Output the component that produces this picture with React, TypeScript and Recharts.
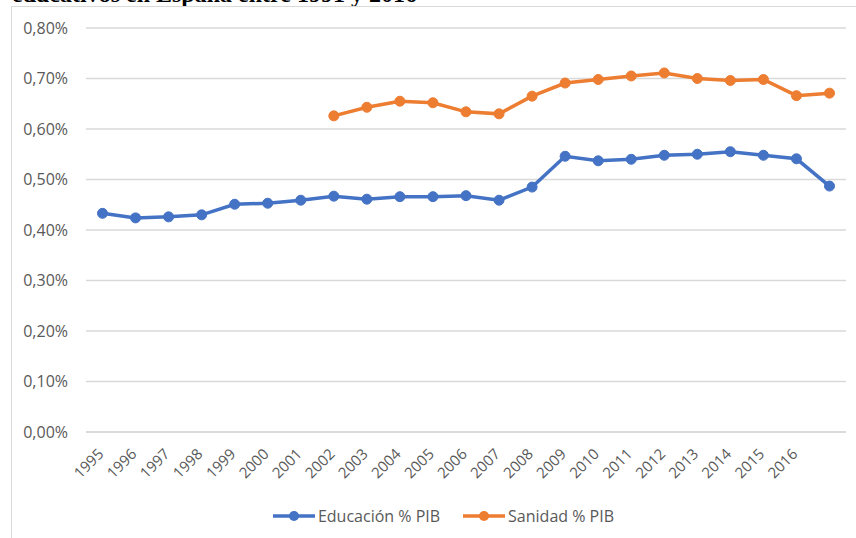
import { LineChart, Line, XAxis, YAxis, CartesianGrid } from "recharts";

const years = [
  "1995", "1996", "1997", "1998", "1999", "2000", "2001", "2002", "2003",
  "2004", "2005", "2006", "2007", "2008", "2009", "2010", "2011", "2012",
  "2013", "2014", "2015", "2016", "",
];

const educacion = [
  0.433, 0.424, 0.426, 0.43, 0.451, 0.453, 0.459, 0.467, 0.461, 0.466, 0.466,
  0.468, 0.459, 0.485, 0.546, 0.537, 0.54, 0.548, 0.55, 0.555, 0.548, 0.541,
  0.487,
];

const sanidad = [
  null, null, null, null, null, null, null, 0.626, 0.643, 0.655, 0.652, 0.634,
  0.63, 0.665, 0.691, 0.698, 0.705, 0.711, 0.7, 0.696, 0.698, 0.666, 0.671,
];

const yTicks = [0, 0.1, 0.2, 0.3, 0.4, 0.5, 0.6, 0.7, 0.8];

const series = [
  { key: "educacion", name: "Educación % PIB", color: "#4472C4" },
  { key: "sanidad", name: "Sanidad % PIB", color: "#ED7D31" },
];

const data = years.map((year, i) => ({
  year,
  educacion: educacion[i],
  sanidad: sanidad[i],
}));

const textColor = "#595959";
const font = "'Open Sans', 'Liberation Sans', sans-serif";

const fmtPct = (v: number) => v.toFixed(2).replace(".", ",") + "%";

function XTick(props: any) {
  const { x, y, payload } = props;
  const ax = x + 2;
  const ay = y + 23;
  return (
    <text
      x={ax}
      y={ay}
      transform={`rotate(-45 ${ax} ${ay})`}
      textAnchor="end"
      fill={textColor}
      fontSize={15}
      fontFamily={font}
    >
      {payload.value}
    </text>
  );
}

export default function App() {
  return (
    <div
      style={{
        position: "fixed",
        left: 0,
        top: 0,
        width: 856,
        height: 538,
        background: "#fff",
        overflow: "hidden",
      }}
    >
      <div
        style={{
          position: "absolute",
          left: 12,
          top: -19,
          fontFamily: "'Liberation Serif', serif",
          fontWeight: "bold",
          fontSize: 24,
          whiteSpace: "nowrap",
          color: "#000",
        }}
      >
        educativos en España entre 1991 y 2016
      </div>
      <div
        style={{
          position: "absolute",
          left: 11,
          top: 6,
          width: 900,
          height: 600,
          border: "1px solid #D9D9D9",
          boxSizing: "border-box",
        }}
      />
      <div style={{ position: "absolute", left: 0, top: 0 }}>
        <LineChart
          width={856}
          height={538}
          data={data}
          margin={{ top: 28, right: 10, left: 0, bottom: 0 }}
        >
          <CartesianGrid vertical={false} stroke="#D9D9D9" strokeWidth={1.5} />
          <XAxis
            dataKey="year"
            interval={0}
            height={106}
            padding={{ left: 16.5, right: 16.5 }}
            tickLine={false}
            tickSize={0}
            tickMargin={0}
            axisLine={{ stroke: "#D9D9D9", strokeWidth: 1.5 }}
            tick={<XTick />}
          />
          <YAxis
            width={86}
            domain={[0, 0.8]}
            ticks={yTicks}
            tickFormatter={fmtPct}
            axisLine={false}
            tickLine={false}
            tickSize={8}
            tickMargin={10}
            tick={{ fill: textColor, fontSize: 16, fontFamily: font }}
          />
          {series.map((s) => (
            <Line
              key={s.key}
              dataKey={s.key}
              name={s.name}
              stroke={s.color}
              strokeWidth={3.5}
              dot={{ r: 5, fill: s.color, stroke: s.color, strokeWidth: 1 }}
              isAnimationActive={false}
            />
          ))}
        </LineChart>
      </div>
      <div
        style={{
          position: "absolute",
          top: 505,
          left: 0,
          width: 856,
          display: "flex",
          justifyContent: "center",
          gap: 22,
          fontFamily: font,
          fontSize: 16,
          color: textColor,
          paddingLeft: 30,
          boxSizing: "border-box",
        }}
      >
        {series.map((s) => (
          <div key={s.key} style={{ display: "flex", alignItems: "center" }}>
            <svg width={44} height={22}>
              <line x1={1} y1={11} x2={43} y2={11} stroke={s.color} strokeWidth={3.5} />
              <circle cx={22} cy={11} r={5} fill={s.color} />
            </svg>
            <span style={{ marginLeft: 2 }}>{s.name}</span>
          </div>
        ))}
      </div>
    </div>
  );
}
